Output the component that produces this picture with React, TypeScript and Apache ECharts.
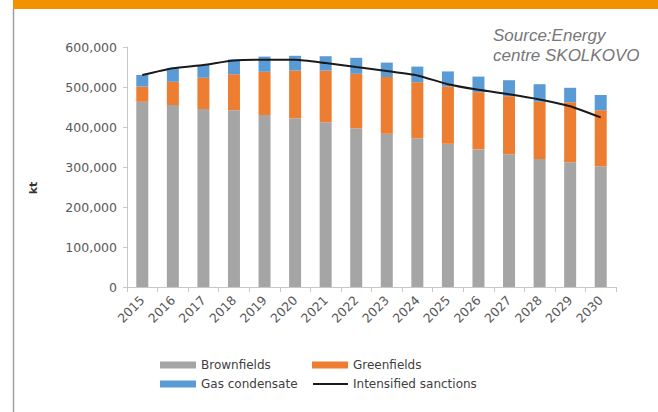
import React, { useEffect, useRef } from "react";
import * as echarts from "echarts";

const years = ["2015","2016","2017","2018","2019","2020","2021","2022","2023","2024","2025","2026","2027","2028","2029","2030"];
const brownfields = [463000,455000,445000,442000,430000,422000,412000,397000,383000,372000,358000,344000,332000,320000,312000,302000];
const greenfields = [38000,58000,78000,90000,108000,119000,129000,136000,142000,140000,143000,143000,145000,143000,150000,140000];
const gasCondensate = [29000,34000,32000,37000,38000,37000,36000,40000,36000,39000,38000,39000,40000,44000,36000,38000];
const intensifiedSanctions = [530000,547000,555000,566000,568000,568000,560000,550000,540000,529000,507000,493000,482000,469000,452000,424000];
const yTicks = { min: 0, max: 600000, interval: 100000 };

export default function App() {
  const ref = useRef<HTMLDivElement>(null);
  useEffect(() => {
    if (!ref.current) return;
    const chart = echarts.init(ref.current, null, { renderer: "svg" });
    const legendText = { color: "#404040", fontSize: 12, fontFamily: "DejaVu Sans" };
    chart.setOption({
      animation: false,
      backgroundColor: "#ffffff",
      grid: { left: 127, right: 42, top: 47, bottom: 125, containLabel: false },
      legend: [
        { data: ["Brownfields"], left: 155, top: 354, itemWidth: 36, itemHeight: 7, icon: "rect", textStyle: legendText, selectedMode: false },
        { data: ["Greenfields"], left: 307, top: 354, itemWidth: 36, itemHeight: 7, icon: "rect", textStyle: legendText, selectedMode: false },
        { data: ["Gas condensate"], left: 155, top: 373, itemWidth: 36, itemHeight: 7, icon: "rect", textStyle: legendText, selectedMode: false },
        { data: ["Intensified sanctions"], left: 308, top: 373, itemWidth: 35, itemHeight: 2, icon: "rect", textStyle: legendText, selectedMode: false },
      ],
      xAxis: {
        type: "category",
        data: years,
        boundaryGap: true,
        axisLine: { lineStyle: { color: "#c8c8c8", width: 1 } },
        axisTick: { show: true, alignWithLabel: false, length: 5, lineStyle: { color: "#c8c8c8" } },
        axisLabel: { rotate: 45, margin: 11, color: "#595959", fontSize: 12.5, fontFamily: "DejaVu Sans", interval: 0 },
      },
      yAxis: {
        type: "value",
        min: yTicks.min,
        max: yTicks.max,
        interval: yTicks.interval,
        axisLine: { show: true, lineStyle: { color: "#c8c8c8", width: 1 } },
        axisTick: { show: true, length: 4, lineStyle: { color: "#c8c8c8" } },
        splitLine: { show: false },
        axisLabel: {
          color: "#595959",
          fontSize: 12.5,
          fontFamily: "DejaVu Sans",
          margin: 10,
          formatter: (v: number) => v.toLocaleString("en-US"),
        },
      },
      series: [
        { name: "Brownfields", type: "bar", stack: "total", data: brownfields, barWidth: 12, itemStyle: { color: "#a5a5a5" } },
        { name: "Greenfields", type: "bar", stack: "total", data: greenfields, barWidth: 12, itemStyle: { color: "#ed7d31" } },
        { name: "Gas condensate", type: "bar", stack: "total", data: gasCondensate, barWidth: 12, itemStyle: { color: "#5b9bd5" } },
        {
          name: "Intensified sanctions",
          type: "line",
          data: intensifiedSanctions,
          smooth: 0.2,
          showSymbol: false,
          symbol: "none",
          itemStyle: { color: "#1a1a1a" },
          lineStyle: { color: "#1a1a1a", width: 2 },
          z: 5,
        },
      ],
      graphic: [
        { type: "rect", shape: { x: 13, y: 0, width: 645, height: 9 }, style: { fill: "#f39200" }, silent: true },
        { type: "line", shape: { x1: 13.5, y1: 9, x2: 13.5, y2: 412 }, style: { stroke: "#a0a0a0", lineWidth: 1.5 }, silent: true },
        {
          type: "text",
          x: 33,
          y: 188,
          rotation: Math.PI / 2,
          style: { text: "kt", fill: "#333333", font: "bold 11px DejaVu Sans", align: "center", verticalAlign: "middle" },
        },
        {
          type: "text",
          x: 493,
          y: 25,
          style: {
            text: "Source:Energy\ncentre SKOLKOVO",
            fill: "#777777",
            font: "italic 17px Liberation Sans",
            lineHeight: 20,
            align: "left",
            verticalAlign: "top",
          },
        },
      ],
    });
    return () => chart.dispose();
  }, []);
  return <div ref={ref} style={{ position: "fixed", left: 0, top: 0, width: 658, height: 412 }} />;
}
